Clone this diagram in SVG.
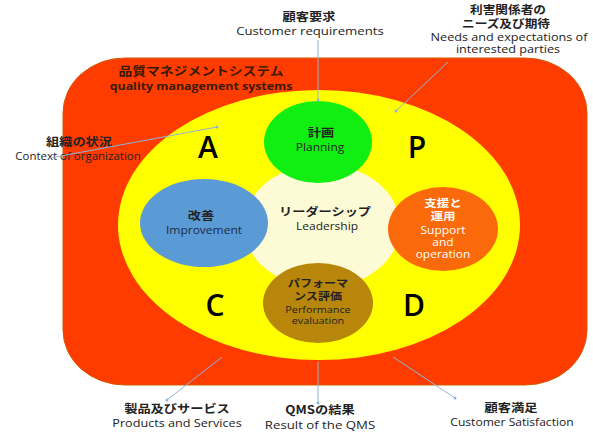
<svg xmlns="http://www.w3.org/2000/svg" width="593" height="432" viewBox="0 0 593 432">
<defs>
<style>
text{font-family:"Open Sans","Noto Sans CJK JP",sans-serif;text-anchor:middle;fill:#222}
.jp{font-size:11px;font-weight:bold;font-family:"Noto Sans CJK JP",sans-serif}
.en{font-size:10px}
.ojp{font-size:11.5px;font-weight:bold;font-family:"Noto Sans CJK JP",sans-serif}
.oen{font-size:11.5px}
.big{font-size:30px;fill:#000;font-weight:600}
.con{stroke:#8fb4dc;stroke-width:1;fill:none}
.dot{fill:#8fb4dc}
</style>
</defs>
<rect x="0" y="0" width="593" height="432" fill="#fff"/>
<g id="qms">
<rect x="63" y="58" width="524" height="327" rx="62" ry="55" fill="#ff3c00" stroke="#d35a00" stroke-width="1"/>
<text transform="translate(201,0) scale(1.15,1)" y="76" style="font-size:12px;font-weight:bold;fill:#3a1a00;font-family:'Noto Sans CJK JP',sans-serif">品質マネジメントシステム</text>
<text transform="translate(201,0) scale(1.18,1)" y="90" style="font-size:10.5px;font-weight:bold;fill:#3a1a00">quality management systems</text>
</g>
<g id="pdca">
<ellipse cx="319" cy="225" rx="201" ry="135" fill="#ffff00"/>
<text class="big" x="208" y="158">A</text>
<text class="big" x="417" y="158">P</text>
<text class="big" x="215" y="316">C</text>
<text class="big" x="414" y="316">D</text>
</g>
<g id="leadership">
<ellipse cx="322" cy="226" rx="78" ry="62" fill="#fdfbd6"/>
<text class="jp" transform="translate(325,0) scale(1.2,1)" y="216">リーダーシップ</text>
<text class="en" transform="translate(327,0) scale(1.2,1)" y="230">Leadership</text>
</g>
<g id="planning">
<ellipse cx="318" cy="142" rx="54" ry="41" fill="#11ee11"/>
<text class="jp" transform="translate(321,0) scale(1.2,1)" y="137">計画</text>
<text class="en" transform="translate(320,0) scale(1.2,1)" y="151">Planning</text>
</g>
<g id="improvement">
<ellipse cx="204" cy="223" rx="64" ry="44" fill="#5b9bd5"/>
<text class="jp" transform="translate(201,0) scale(1.2,1)" y="220">改善</text>
<text class="en" transform="translate(204,0) scale(1.2,1)" y="234" style="fill:#1a2a4a">Improvement</text>
</g>
<g id="support">
<ellipse cx="443" cy="229" rx="55" ry="42" fill="#fb6a0a"/>
<text class="jp" transform="translate(443,0) scale(1.2,1)" y="207" style="fill:#fff;font-size:10.5px">支援と</text>
<text class="jp" transform="translate(443,0) scale(1.2,1)" y="220" style="fill:#fff;font-size:10.5px">運用</text>
<text class="en" transform="translate(443,0) scale(1.2,1)" y="234" style="fill:#fff">Support</text>
<text class="en" transform="translate(443,0) scale(1.2,1)" y="246" style="fill:#fff">and</text>
<text class="en" transform="translate(443,0) scale(1.2,1)" y="258" style="fill:#fff">operation</text>
</g>
<g id="performance">
<ellipse cx="318" cy="303" rx="55" ry="40" fill="#b8860b"/>
<text class="jp" transform="translate(318,0) scale(1.15,1)" y="287" style="font-size:10.5px">パフォーマ</text>
<text class="jp" transform="translate(318,0) scale(1.15,1)" y="300" style="font-size:10.5px">ンス評価</text>
<text class="en" transform="translate(318,0) scale(1.2,1)" y="313" style="font-size:9px">Performance</text>
<text class="en" transform="translate(318,0) scale(1.2,1)" y="324" style="font-size:9px">evaluation</text>
</g>
<g id="labels">
<text class="ojp" transform="translate(309,0) scale(1.15,1)" y="21">顧客要求</text>
<text class="oen" transform="translate(310,0) scale(1.15,1)" y="35">Customer requirements</text>
<text class="ojp" transform="translate(508,0) scale(1.15,1)" y="14" style="font-size:11px">利害関係者の</text>
<text class="ojp" transform="translate(506,0) scale(1.15,1)" y="28" style="font-size:11px">ニーズ及び期待</text>
<text class="oen" transform="translate(509,0) scale(1.15,1)" y="41" style="font-size:11px">Needs and expectations of</text>
<text class="oen" transform="translate(508,0) scale(1.15,1)" y="53" style="font-size:11px">interested parties</text>
<text class="ojp" transform="translate(79,0) scale(1.15,1)" y="146">組織の状況</text>
<text class="oen" transform="translate(78,0) scale(1.15,1)" y="160" style="font-size:10px">Context of organization</text>
<text class="ojp" transform="translate(177,0) scale(1.15,1)" y="413">製品及びサービス</text>
<text class="oen" transform="translate(177,0) scale(1.1,1)" y="427">Products and Services</text>
<text class="ojp" transform="translate(320,0) scale(1.15,1)" y="414">QMSの結果</text>
<text class="oen" transform="translate(320,0) scale(1.15,1)" y="429">Result of the QMS</text>
<text class="ojp" transform="translate(511,0) scale(1.15,1)" y="412">顧客満足</text>
<text class="oen" transform="translate(512,0) scale(1.05,1)" y="426">Customer Satisfaction</text>
</g>
<g id="connectors">
<line class="con" x1="318" y1="40" x2="318" y2="100"/>
<circle class="dot" cx="318" cy="100" r="1.5"/>
<line class="con" x1="448" y1="62" x2="396" y2="111"/>
<circle class="dot" cx="396" cy="111" r="1.5"/>
<line class="con" x1="50" y1="158" x2="217" y2="127"/>
<circle class="dot" cx="217" cy="127" r="1.5"/>
<line class="con" x1="222" y1="357" x2="167" y2="400"/>
<circle class="dot" cx="167" cy="400" r="1.5"/>
<line class="con" x1="318" y1="362" x2="318" y2="403"/>
<circle class="dot" cx="318" cy="403" r="1.5"/>
<line class="con" x1="393" y1="357" x2="455" y2="398"/>
<circle class="dot" cx="455" cy="398" r="1.5"/>
</g>
</svg>
